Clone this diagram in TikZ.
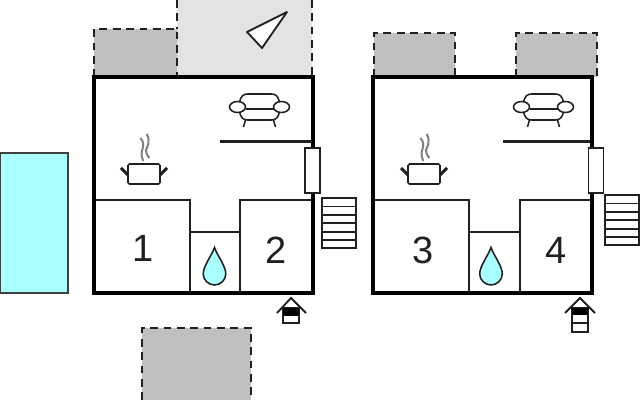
\documentclass[tikz,border=0pt]{standalone}
\usepackage{fontspec}
\setmainfont{Liberation Sans}
\definecolor{poolblue}{HTML}{AAFFFF}
\definecolor{terracegrey}{HTML}{BFBFBF}
\definecolor{terracelight}{HTML}{E3E3E3}
\definecolor{linedark}{HTML}{202020}
\tikzset{
    wallout/.style = {line width=2.5pt,black},
    wallin/.style = {line width=1.6pt,linedark},
    terraced/.style = {fill=terracegrey,draw=none},
    terracel/.style = {fill=terracelight,draw=none},
    terraceline/.style = {draw=linedark,line width=1.3pt,dash pattern=on 5.5pt off 4pt},
    poolbox/.style = {fill=poolblue,draw=black!75,line width=1.1pt},
    roomnum/.style = {font=\fontsize{27}{27}\selectfont,text=linedark,inner sep=0pt},
    thinline/.style = {line width=1.1pt,linedark},
    whitebox/.style = {fill=white,draw=linedark,line width=1.1pt},
    pics/sofa/.style = {code={
        \draw[thinline] (-20,-4) .. controls (-19,-11) and (-16,-13) .. (-12,-13) -- (12,-13) .. controls (16,-13) and (19,-11) .. (20,-4);
        \draw[thinline] (-14,2) -- (14,2);
        \draw[thinline] (-20,4) .. controls (-19,11) and (-16,13) .. (-12,13) -- (12,13) .. controls (16,13) and (19,11) .. (20,4);
        \draw[thinline,fill=white] (-22,0) ellipse (8 and 5.5);
        \draw[thinline,fill=white] (22,0) ellipse (8 and 5.5);
        \draw[thinline] (-14,13) -- (-16,20);
        \draw[thinline] (14,13) -- (16,20);
    }},
    pics/pot/.style = {code={
        \draw[thinline,fill=white,rounded corners=1pt] (-16,-10) rectangle (16,10);
        \draw[line width=2.2pt,linedark] (-16,1) -- (-23,-6);
        \draw[line width=2.2pt,linedark] (16,1) -- (23,-6);
        \draw[line width=1.4pt,black!50] (-0.7,-13) .. controls (-3,-18) and (-2,-20) .. (-2.3,-22) .. controls (-2,-25) and (2,-30) .. (-3.7,-36);
        \draw[line width=1.4pt,black!50] (5.3,-16) .. controls (3,-19) and (2,-21) .. (2,-24) .. controls (3,-27) and (7,-32) .. (2.7,-40);
    }},
    pics/drop/.style = {code={
        \draw[line width=1.1pt,linedark,fill=poolblue] (0,-22.5) .. controls (-3,-14) and (-11.3,-4) .. (-11.3,4) .. controls (-11.3,10) and (-6,15) .. (0,15) .. controls (6,15) and (11.3,10) .. (11.3,4) .. controls (11.3,-4) and (3,-14) .. (0,-22.5) -- cycle;
    }},
    pics/stairs/.style = {code={
        \draw[whitebox] (0,0) rectangle (34,50);
        \foreach \y in {8.5,17,25,34,42}
            \draw[thinline] (0,\y) -- (34,\y);
    }},
}
\begin{document}
\begin{tikzpicture}[x=0.025cm,y=-0.025cm]
\useasboundingbox (0,0) rectangle (640,400);
%
\fill[white] (0,0) rectangle (640,400);
% terraces, left house
\fill[terracel] (177,0) rectangle (312,77);
\fill[terraced] (94,29) rectangle (177,77);
\draw[terraceline] (94,77) -- (94,29) -- (177,29) -- (177,77);
\draw[terraceline] (177,0) -- (177,29);
\draw[terraceline] (312,0) -- (312,77);
% terraces, right house and bottom
\fill[terraced] (374,33) rectangle (455,77);
\draw[terraceline] (374,77) -- (374,33) -- (455,33) -- (455,77);
\fill[terraced] (516,33) rectangle (597,77);
\draw[terraceline] (516,77) -- (516,33) -- (597,33) -- (597,77);
\fill[terraced] (142,328) rectangle (251,400);
\draw[terraceline] (142,400) -- (142,328) -- (251,328) -- (251,400);
% pool
\node[poolbox,minimum width=1.7cm,minimum height=3.5cm,inner sep=0pt] (pool) at (34,223) {};
% compass
\draw[thinline,line width=1.3pt,fill=white,line join=round] (287,12) -- (247,32) -- (262,48) -- cycle;
% left house
\draw[wallin] (94,200) -- (190,200) -- (190,293);
\draw[wallin] (190,232) -- (240,232);
\draw[wallin] (240,293) -- (240,200) -- (313,200);
\draw[wallin] (220,141.5) -- (313,141.5);
\draw[wallout] (94,77) rectangle (313,293);
\node[whitebox,minimum width=0.38cm,minimum height=1.12cm,inner sep=0pt] (win1) at (312.5,170.5) {};
% right house
\draw[wallin] (373,200) -- (469,200) -- (469,293);
\draw[wallin] (469,232) -- (520,232);
\draw[wallin] (520,293) -- (520,200) -- (592,200);
\draw[wallin] (503,141.5) -- (592,141.5);
\draw[wallout] (373,77) rectangle (592,293);
\node[whitebox,minimum width=0.38cm,minimum height=1.12cm,inner sep=0pt] (win2) at (596,170.5) {};
% room numbers
\node[roomnum] (r1) at (143,248) {1};
\node[roomnum] (r2) at (276,250) {2};
\node[roomnum] (r3) at (423,250) {3};
\node[roomnum] (r4) at (556,250) {4};
% furniture
\pic at (259.5,107) {sofa};
\pic at (543.5,107) {sofa};
\pic at (144,174) {pot};
\pic at (424,174) {pot};
\pic at (214.5,270) {drop};
\pic at (491,270) {drop};
\pic at (322,198) {stairs};
\pic at (605,195) {stairs};
% entrances
\draw[whitebox] (283,308) rectangle (299,323);
\fill[black] (283,308) rectangle (299,316);
\draw[thinline,line width=1.3pt] (277,313) -- (291,298) -- (306,313);
\draw[whitebox] (572,308) rectangle (588,332);
\fill[black] (572,308) rectangle (588,315);
\draw[thinline] (572,323) -- (588,323);
\draw[thinline,line width=1.3pt] (565,313) -- (580,298) -- (595,313);
\end{tikzpicture}
\end{document}
